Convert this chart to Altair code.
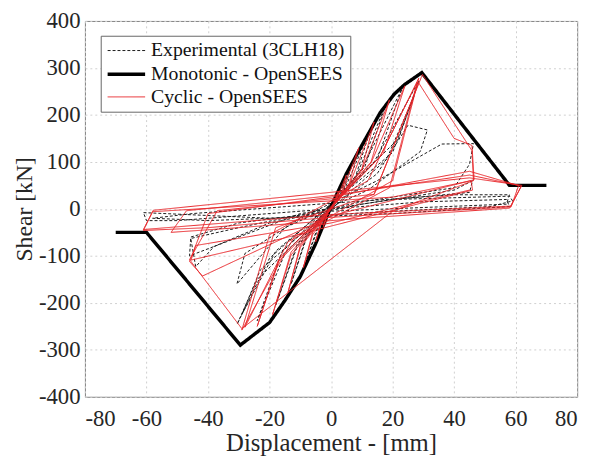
import altair as alt
import pandas as pd

# Monotonic backbone (OpenSEES)
mono_x = [-70, -60, -29.5, -20, -15, -10, -5, 0, 5, 10, 13, 16, 20.5, 24, 29.5, 58, 70]
mono_y = [-50, -50, -290, -242, -195, -144, -74, 5, 75, 135, 170, 205, 244, 265, 290, 50, 50]

# Cyclic OpenSEES path
red_x = [0, 2.5, 1, -1, -2.5, -1, 1, 5, 3, -3, -5, -3, 3, 9, 6, -6, -9, -6, 6,
         14, 10, -10, -14, -10, 10, 19, 13, -13, -19, -13, 13, 24, 17, -17, -24, -17, 16,
         28.5, 20, -12, -29, -20, 12, 28, 19, -14, -28, -18, 14, 29.7,
         45.8, 46.3, 20, -29, -46, -37, 14, 28.5, 40, 45.8, 46.5, 0, -41.8, -46, -40, 0, 45,
         61.8, 58, 10, -30, -52, -47, 0, 45, 61, 58.5, 0, -40, -61, -57.8, -1.8, 45, 62,
         58.5, 0, -61, -58, 20, 45.5, 46, -20, -45.5, -44, 0, 45]
red_y = [0, 38, 8, -8, -38, -6, 8, 72, 25, -25, -70, -22, 24, 130, 55, -55, -125, -50, 52,
         185, 85, -82, -178, -78, 82, 232, 100, -98, -225, -92, 98, 262, 118, -112, -250, -108, 112,
         278, 60, -60, -258, -55, 60, 270, 45, -70, -252, -40, 31, 286,
         124, 60, -5, -255, -108, -4, 31, 268, 150, 135, 62, -15, -143, -112, -10, 25, 80,
         48, 1.5, -20, -40, -50, -4, 28, 72, 50, 4, -18, -40, -46, -3, 34, 66, 50,
         6, -12, -44, -6, 25, 60, 40, -70, -109, -78, -30, 40]

# Experimental (3CLH18) path
exp_x = [0, 2, 0.5, -1, -2, -0.5, 1, 4, 2, -2, -4, -2, 2, 8, 4, -4, -8, -4, 4,
         13, 8, -8, -13, -8, 8, 18, 11, -11, -18, -11, 10, 23, 15, -15, -24, -16, 14,
         28.5, 22, 5, -20, -30.5, -24, -5, 18, 27, 20, 0, -18, -29, -23, -3, 15,
         25, 31.3, 29, 12, -15, -30.6, -28, -10, 15,
         36, 46.3, 45, 40, 10, -30, -45.6, -44, -38, -20, 10, 40, 46, 45, 20,
         58, 59, 52, 20, -20, -61, -60, -50, -10, 30, 57, 58, 20, -40, -58,
         -45, 0, 40, 58, 57, 0, -30, -45.6, -46, -30, -10, 20]
exp_y = [0, 28, 5, -10, -30, -5, 10, 58, 18, -18, -55, -15, 16, 115, 40, -38, -108, -32, 36,
         172, 70, -62, -160, -58, 66, 225, 90, -80, -205, -75, 85, 255, 105, -95, -238, -92, 100,
         272, 150, 40, -105, -245, -150, -30, 105, 240, 120, 10, -90, -225, -130, -15, 75,
         178, 168, 122, 40, -40, -160, -95, -20, 60,
         138, 139, 95, 45, 15, -40, -63, -123, -80, -30, 10, 40, 60, 35, 20,
         27, 17, 5, -5, -20, -8, -25, -25, -5, 15, 20, 5, -10, -25, -20,
         -10, 12, 30, 30, 10, -5, -30, -60, -100, -60, -10, 20]

series_names = ["Experimental (3CLH18)", "Monotonic - OpenSEES", "Cyclic - OpenSEES"]
series_colors = ["#1a1a1a", "#000000", "#e8262a"]
series_dash = [[3, 2], [1, 0], [1, 0]]
series_width = [1, 3.5, 1]

rows = []
for name, xs, ys in [(series_names[0], exp_x, exp_y),
                     (series_names[1], mono_x, mono_y),
                     (series_names[2], red_x, red_y)]:
    for i, (x, y) in enumerate(zip(xs, ys)):
        rows.append({"series": name, "x": x, "y": y, "i": i})
df = pd.DataFrame(rows)

font = "Liberation Serif"
x_ticks = [-80, -60, -40, -20, 0, 20, 40, 60, 80]
y_ticks = [-400, -300, -200, -100, 0, 100, 200, 300, 400]

legend = alt.Legend(
    orient="none", legendX=16, legendY=15, title=None,
    fillColor="white", strokeColor="#666666", padding=5,
    symbolType="M-1,0H3", symbolSize=361, labelOffset=23,
    labelFont=font, labelFontSize=20, labelColor="#111111",
    rowPadding=2.5, labelLimit=0,
)

base = alt.Chart(df).mark_line(clip=True).encode(
    x=alt.X("x:Q", scale=alt.Scale(domain=[-80, 80], nice=False),
            axis=alt.Axis(values=x_ticks, title="Displacement - [mm]",
                          labelExpr="datum.value + ''", labelPadding=11, titlePadding=0,
                          labelFont=font, labelFontSize=23,
                          titleFont=font, titleFontSize=25)),
    y=alt.Y("y:Q", scale=alt.Scale(domain=[-400, 400], nice=False),
            axis=alt.Axis(values=y_ticks, title="Shear [kN]",
                          labelExpr="datum.value + ''", labelPadding=5, titlePadding=2,
                          labelFont=font, labelFontSize=23,
                          titleFont=font, titleFontSize=24)),
    color=alt.Color("series:N", scale=alt.Scale(domain=series_names, range=series_colors), legend=legend),
    strokeDash=alt.StrokeDash("series:N", scale=alt.Scale(type="ordinal", domain=series_names, range=series_dash), legend=legend),
    strokeWidth=alt.StrokeWidth("series:N", scale=alt.Scale(type="ordinal", domain=series_names, range=series_width), legend=legend),
    order=alt.Order("i:Q"),
)

layers = [base.transform_filter(alt.datum.series == n) for n in series_names]

chart = alt.layer(*layers).properties(
    width=499, height=381,
    autosize=alt.AutoSizeParams(type="none"),
    padding={"left": 78, "top": 10, "right": 13, "bottom": 64},
).configure_view(
    stroke="#808080", strokeWidth=1,
).configure_axis(
    domain=False, ticks=False,
    grid=True, gridColor="#cfcfcf", gridDash=[2, 3], gridWidth=1,
    labelColor="#262626",
    titleFontWeight="normal", titleColor="#262626",
)

chart.save("out.html", embed_options={"renderer": "svg", "actions": False})
